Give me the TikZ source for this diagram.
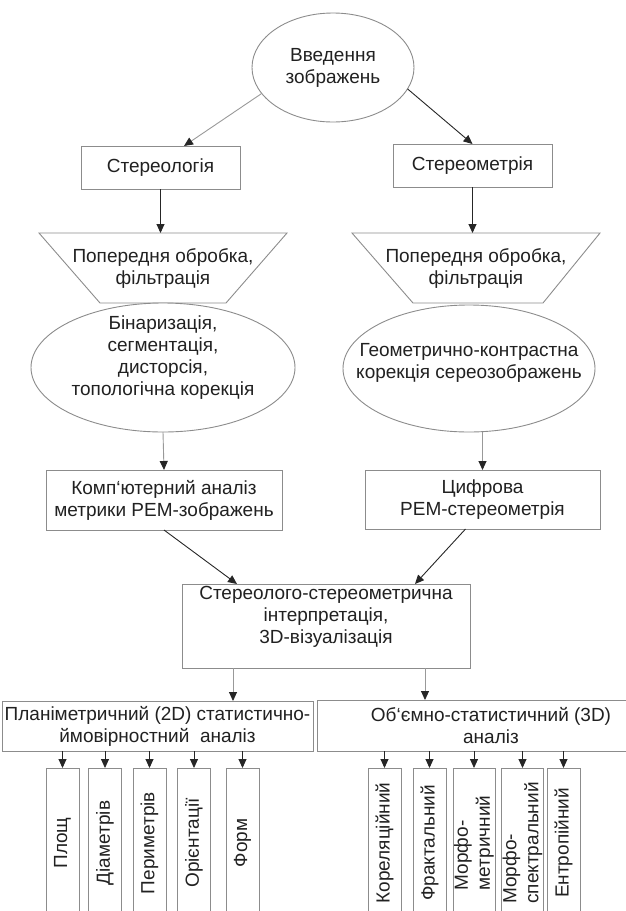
\documentclass[tikz,border=0pt]{standalone}
\usepackage{fontspec}
\setmainfont{Liberation Sans}
\usetikzlibrary{arrows.meta,positioning,shapes.geometric,calc}
\newcommand{\stfont}{\fontsize{19}{22}\selectfont}
\definecolor{stline}{gray}{0.55}
\definecolor{stink}{gray}{0.13}
\tikzset{
  stbox/.style={
    rectangle, draw=stline, fill=white, line width=0.9pt,
    inner sep=2pt, outer sep=0pt, align=center, font=\stfont, text=stink
  },
  stoval/.style={
    ellipse, draw=stline, fill=white, line width=0.9pt,
    inner sep=0pt, outer sep=0pt, align=center, font=\stfont, text=stink
  },
  sttext/.style={inner sep=0pt, outer sep=0pt, align=center, font=\stfont, text=stink},
  stshape/.style={draw=stline, line width=0.9pt},
  stcolumn/.style={
    rectangle, draw=stline, line width=0.9pt, rotate=90,
    minimum width=150pt, minimum height=33pt,
    inner sep=0pt, outer sep=0pt, align=left, font=\stfont, text=stink
  },
  stedge/.style={-{Triangle[length=9pt,width=8pt]}, draw=black!85, line width=0.9pt},
  stedgelight/.style={-{Triangle[length=9pt,width=8pt,color=black!85]}, draw=black!40, line width=0.9pt}
}

\begin{document}
\begin{tikzpicture}[x=1pt,y=-1pt]
\useasboundingbox (0,0) rectangle (625,911);
% x and y in pixels of the scheme, y grows downwards
\node[stoval, minimum width=162pt, minimum height=109pt] (intro) at (333,67.5) {Введення\\зображень};
\node[stbox, minimum width=159pt, minimum height=43pt] (stlog) at (160.5,167.5) {Стереологія};
\node[stbox, minimum width=159pt, minimum height=43pt] (stmet) at (472.5,165.5) {Стереометрія};
\draw[stedgelight] (intro.200) -- ($(stlog.north)+(23.5,0)$);
\draw[stedge] (intro.-16) -- (stmet.north);

\node[sttext, minimum width=248pt, minimum height=70pt] (ppl) at (163,268) {Попередня обробка,\\фільтрація};
\draw[stshape] (ppl.north west) -- (ppl.north east) -- ($(ppl.south east)+(-61,0)$) -- ($(ppl.south west)+(61,0)$) -- cycle;
\node[sttext, minimum width=248pt, minimum height=70pt] (ppr) at (476,268) {Попередня обробка,\\фільтрація};
\draw[stshape] (ppr.north west) -- (ppr.north east) -- ($(ppr.south east)+(-57,0)$) -- ($(ppr.south west)+(61,0)$) -- cycle;
\draw[stedge] (stlog) -- (stlog |- ppl.north);
\draw[stedge] (stmet) -- (stmet |- ppr.north);

\node[stoval, minimum width=264pt, minimum height=129pt] (bin) at (163,367.5) {};
\node[sttext] (bintext) at ($(bin)+(0,-10)$) {Бінаризація,\\сегментація,\\дисторсія,\\топологічна корекція};
\node[stoval, minimum width=252pt, minimum height=127pt] (geo) at (469,368.5) {};
\node[sttext] (geotext) at ($(geo)+(0,-5.5)$) {Геометрично-контрастна\\корекція сереозображень};

\node[stbox, minimum width=236pt, minimum height=60pt] (comp) at (164,500) {Комп`ютерний аналіз\\метрики РЕМ-зображень};
\node[stbox, minimum width=235pt, minimum height=59pt] (dig) at (482.5,499.5) {Цифрова\\РЕМ-стереометрія};
\draw[stedgelight] (bin.south) -- (comp.north);
\draw[stedgelight] (dig.north |- geo.south) -- (dig.north);

\node[stbox, minimum width=288pt, minimum height=84pt] (stst) at (326,626) {Стереолого-стереометрична\\інтерпретація,\\3D-візуалізація\\\mbox{}};
\draw[stedge] (comp.south) -- ($(stst.north west)+(55,0)$);
\draw[stedge] ($(dig.south)+(-17,0)$) -- ($(stst.north east)+(-55,0)$);

\node[stbox, minimum width=311pt, minimum height=50pt] (plan) at (157.5,726) {Планіметричний (2D) статистично-\\ймовірностний\ \ аналіз};
\node[stbox, minimum width=348pt, minimum height=51pt] (vol) at (491,725.5) {Об`ємно-статистичний (3D)\\аналіз};
\coordinate (to2d) at ($(stst.south west)+(51,0)$);
\coordinate (to3d) at ($(stst.south east)+(-45,0)$);
\draw[stedgelight] (to2d) -- (to2d |- plan.north);
\draw[stedgelight] (to3d) -- (to3d |- vol.north);

\node[stcolumn] (pl1) at (62.5,843) {Площ};
\node[stcolumn] (pl2) at (105,843) {Діаметрів};
\node[stcolumn] (pl3) at (149.5,843) {Периметрів};
\node[stcolumn] (pl4) at (194,843) {Орієнтації};
\node[stcolumn] (pl5) at (242.5,843) {Форм};
\draw[stedge] (plan.south -| pl1.east) -- (pl1.east);
\draw[stedge] (plan.south -| pl2.east) -- (pl2.east);
\draw[stedge] (plan.south -| pl3.east) -- (pl3.east);
\draw[stedge] (plan.south -| pl4.east) -- (pl4.east);
\draw[stedge] (plan.south -| pl5.east) -- (pl5.east);

\node[stcolumn] (vl1) at (384.5,843) {Кореляційний};
\node[stcolumn] (vl2) at (429.5,843) {Фрактальний};
\node[stcolumn, minimum height=42pt] (vl3) at (474,843) {Морфо-\\метричний};
\node[stcolumn, minimum height=42pt] (vl4) at (522.5,843) {Морфо-\\спектральний};
\node[stcolumn] (vl5) at (563.5,843) {Ентропійний};
\draw[stedge] (vol.south -| vl1.east) -- (vl1.east);
\draw[stedge] (vol.south -| vl2.east) -- (vl2.east);
\draw[stedge] (vol.south -| vl3.east) -- (vl3.east);
\draw[stedge] (vol.south -| vl4.east) -- (vl4.east);
\draw[stedge] (vol.south -| vl5.east) -- (vl5.east);
\end{tikzpicture}
\end{document}
